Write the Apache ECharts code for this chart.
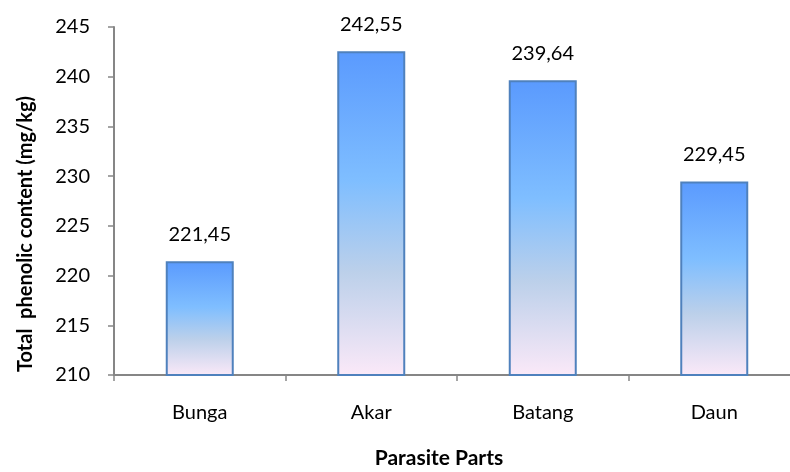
<!DOCTYPE html>
<html>
<head>
<meta charset="utf-8">
<script src="https://cdn.jsdelivr.net/npm/echarts@6/dist/echarts.min.js"></script>
<style>
  html, body { margin: 0; padding: 0; background: #fff; }
  #chart { width: 790px; height: 472px; }
</style>
</head>
<body>
<div id="chart"></div>
<script>
// Parasite parts and their total phenolic content (mg/kg)
const categories = ['Bunga', 'Akar', 'Batang', 'Daun'];
const phenolic = [221.45, 242.55, 239.64, 229.45];
const yTicks = { min: 210, max: 245, step: 5 };

const FONT = 'Lato';
const axisGray = '#868686';

const chart = echarts.init(document.getElementById('chart'), null, { renderer: 'canvas' });

chart.setOption({
  animation: false,
  backgroundColor: '#ffffff',
  textStyle: { fontFamily: FONT },
  // fixed plot box; the last category band runs past the right edge of the canvas
  grid: { left: 114, top: 27, width: 686, height: 348, containLabel: false, outerBoundsMode: 'none' },
  xAxis: {
    type: 'category',
    data: categories,
    boundaryGap: true,
    axisLine: { lineStyle: { color: axisGray, width: 2 } },
    axisTick: { show: true, length: 6, lineStyle: { color: axisGray, width: 1.5 } },
    axisLabel: { color: '#000', fontSize: 20, fontFamily: FONT, margin: 28 },
    name: 'Parasite Parts',
    nameLocation: 'middle',
    nameGap: 73,
    nameTextStyle: { color: '#000', fontSize: 21, fontWeight: 'bold', fontFamily: FONT, padding: [0, 36, 0, 0] }
  },
  yAxis: {
    type: 'value',
    min: yTicks.min,
    max: yTicks.max,
    interval: yTicks.step,
    splitLine: { show: false },
    axisLine: { show: true, lineStyle: { color: axisGray, width: 2 } },
    axisTick: { show: true, length: 6, lineStyle: { color: axisGray, width: 1.5 } },
    axisLabel: { color: '#000', fontSize: 20, fontFamily: FONT, margin: 24 },
    name: 'Total  phenolic content (mg/kg)',
    nameLocation: 'middle',
    nameRotate: 90,
    nameGap: 78,
    nameTextStyle: { color: '#000', fontSize: 20, fontWeight: 'bold', fontFamily: FONT, padding: [0, 66, 0, 0] }
  },
  series: [{
    type: 'bar',
    data: phenolic,
    barWidth: 68,
    itemStyle: {
      color: new echarts.graphic.LinearGradient(0, 0, 0, 1, [
        { offset: 0, color: '#5a9afe' },
        { offset: 0.4, color: '#7fbeff' },
        { offset: 0.68, color: '#bcd0ea' },
        { offset: 1, color: '#fbe9f8' }
      ]),
      borderColor: '#4f81bd',
      borderWidth: 2
    },
    label: {
      show: true,
      position: 'top',
      distance: 17,
      color: '#000',
      fontSize: 20,
      fontFamily: FONT,
      formatter: p => p.value.toFixed(2).replace('.', ',')
    }
  }]
});
</script>
</body>
</html>
